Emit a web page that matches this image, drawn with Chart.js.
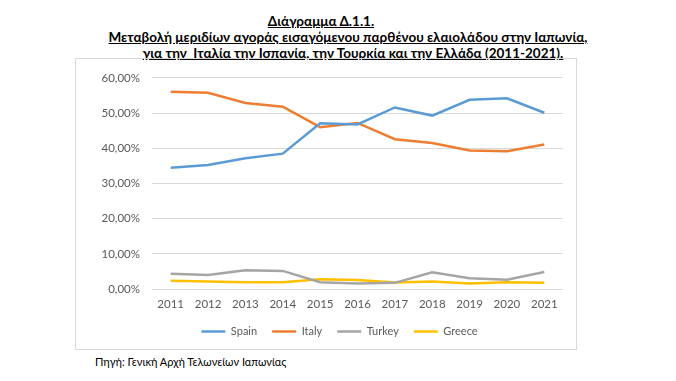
<!DOCTYPE html>
<html>
<head>
<meta charset="utf-8">
<script src="https://cdn.jsdelivr.net/npm/chart.js@4.4.0/dist/chart.umd.min.js"></script>
<style>
  body { margin: 0; background: #fff; width: 676px; height: 381px; position: relative; font-family: Lato, "Open Sans", sans-serif; }
  .t { position: absolute; width: 600px; text-align: center; font-weight: bold; font-size: 13.5px; line-height: 16px; text-decoration: underline; color: #000; white-space: pre; }
  #box { position: absolute; left: 75px; top: 58px; width: 500px; height: 290px; border: 1px solid #d9d9d9; }
  #source { position: absolute; left: 95px; top: 355px; font-size: 11px; color: #000; }
</style>
</head>
<body>
<div class="t" style="left:21px; top:13px;">Διάγραμμα Δ.1.1.</div>
<div class="t" style="left:48px; top:29px;">Μεταβολή μεριδίων αγοράς εισαγόμενου παρθένου ελαιολάδου στην Ιαπωνία,</div>
<div class="t" style="left:53px; top:45px;">για την  Ιταλία την Ισπανία, την Τουρκία και την Ελλάδα (2011-2021).</div>
<div id="box"><canvas id="chart1"></canvas></div>
<div id="source">Πηγή: Γενική Αρχή Τελωνείων Ιαπωνίας</div>
<script>
var years = ["2011","2012","2013","2014","2015","2016","2017","2018","2019","2020","2021"];
var spain = [34.5, 35.3, 37.2, 38.5, 47.1, 46.8, 51.6, 49.3, 53.8, 54.2, 50.1];
var italy = [56.1, 55.8, 52.9, 51.8, 46.0, 47.2, 42.6, 41.5, 39.4, 39.2, 41.1];
var turkey = [4.4, 4.0, 5.4, 5.2, 2.0, 1.6, 1.8, 4.8, 3.1, 2.7, 4.9];
var greece = [2.4, 2.2, 2.0, 2.0, 2.8, 2.6, 1.9, 2.2, 1.6, 2.0, 1.8];

function line(label, data, color) {
	return {
		label: label,
		data: data,
		borderColor: color,
		backgroundColor: color,
		borderWidth: 2.5,
		pointRadius: 0,
		tension: 0,
		fill: false
	};
}

// legend sits a bit right of the canvas centre in the original
var shiftLegend = {
	id: 'shiftLegend',
	afterLayout: function(chart) {
		chart.legend.left += 20;
		chart.legend.right += 20;
	}
};

new Chart(document.getElementById("chart1"), {
	type: 'line',
	data: {
		labels: years,
		datasets: [
			line("Spain", spain, "#5B9BD5"),
			line("Italy", italy, "#ED7D31"),
			line("Turkey", turkey, "#A5A5A5"),
			line("Greece", greece, "#FFC000")
		]
	},
	plugins: [shiftLegend],
	options: {
		responsive: true,
		maintainAspectRatio: false,
		animation: false,
		layout: { padding: { top: 16, right: 13, left: 0, bottom: 2 } },
		plugins: {
			legend: {
				position: 'bottom',
				labels: {
					usePointStyle: true,
					pointStyle: 'line',
					pointStyleWidth: 24,
					boxHeight: 8,
					color: '#595959',
					font: { family: 'Lato', size: 11 },
					padding: 15
				}
			},
			tooltip: { enabled: false }
		},
		scales: {
			x: {
				offset: true,
				grid: { display: false },
				border: { display: false },
				ticks: { color: '#595959', font: { family: 'Lato', size: 11.5 }, padding: 0, maxRotation: 0 }
			},
			y: {
				min: 0,
				max: 60,
				afterFit: function(scale) { scale.width = 76; },
				grid: { color: '#d9d9d9', drawTicks: false },
				border: { display: false },
				ticks: {
					stepSize: 10,
					padding: 12,
					color: '#595959',
					font: { family: 'Lato', size: 11.5 },
					callback: function(v) { return v.toFixed(2).replace('.', ',') + '%'; }
				}
			}
		}
	}
});
</script>
</body>
</html>
